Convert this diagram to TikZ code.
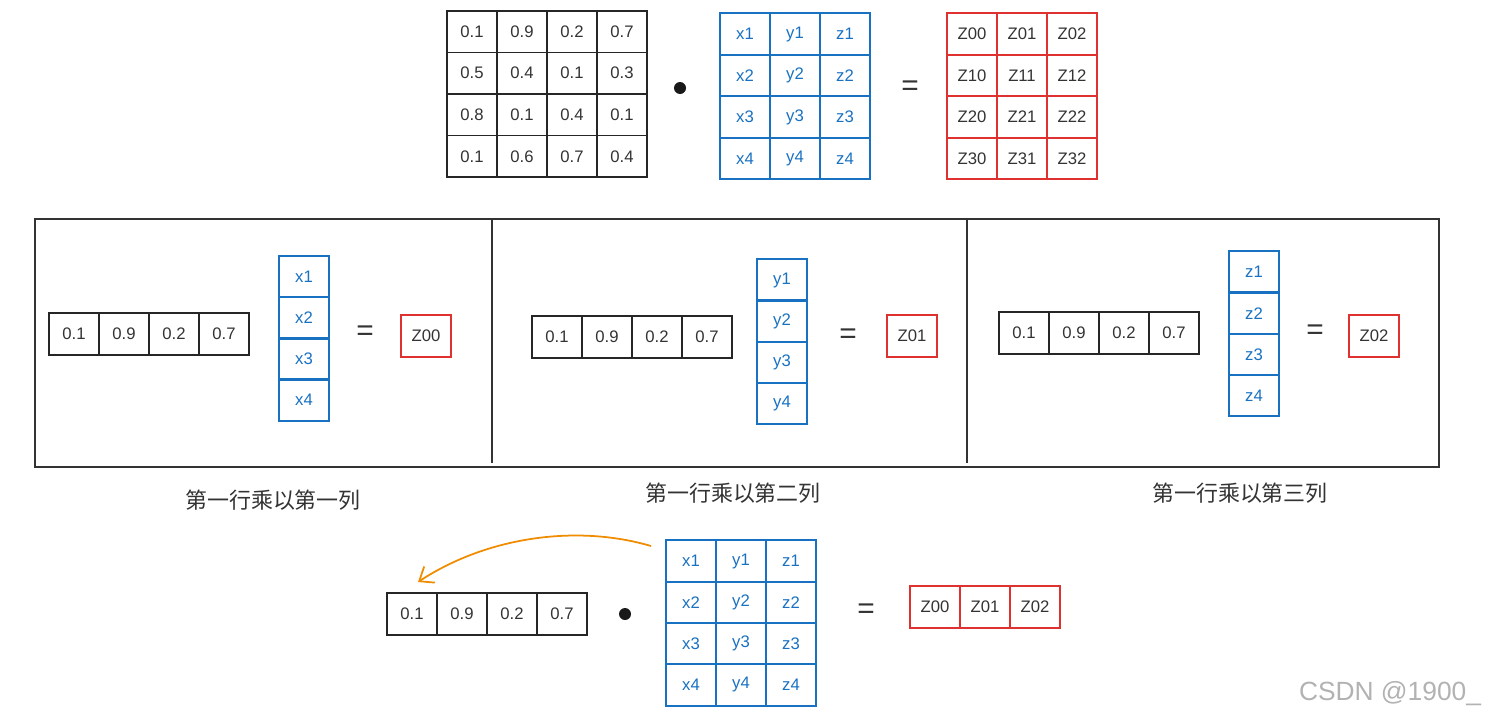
\documentclass[tikz,border=0pt]{standalone}
\usepackage{fontspec}
\setmainfont{Liberation Sans}
\newfontfamily\cjkfont{Noto Sans CJK SC}
\usepackage{xcolor}
\usepackage{tikz}
\usetikzlibrary{positioning,arrows.meta}
\definecolor{cellblue}{HTML}{1971C2}
\definecolor{cellred}{HTML}{E03131}
\definecolor{arrorange}{HTML}{F08C00}
\definecolor{txtgray}{HTML}{333333}

\tikzset{
  cell/.style={draw, line width=1.1pt, minimum width=1cm, minimum height=0.83cm,
    inner sep=0pt, font=\fontsize{9.5}{11}\selectfont, text=txtgray},
  acell/.style={cell, draw=black!85},
  bcell/.style={cell, draw=cellblue, text=cellblue},
  zcell/.style={cell, draw=cellred},
  opsign/.style={font=\fontsize{17}{19}\selectfont, text=txtgray},
  dotsign/.style={circle, fill=black!90, inner sep=0pt, minimum size=0.24cm},
  caption/.style={font=\cjkfont\fontsize{12.5}{15}\selectfont, text=txtgray},
}

\begin{document}
\begin{tikzpicture}[x=0.02cm, y=-0.02cm]
  \useasboundingbox (0,0) rectangle (1490,724);

  % top: A . B = Z
  \foreach \r/\vals in {1/{0.1,0.9,0.2,0.7}, 2/{0.5,0.4,0.1,0.3},
                        3/{0.8,0.1,0.4,0.1}, 4/{0.1,0.6,0.7,0.4}}
    \foreach \v [count=\c] in \vals
      \node[acell] (a-\r-\c) at ({472+50*(\c-1)},{31.75+41.5*(\r-1)}) {\v};
  \node[dotsign] (dot1) at (680,88) {};
  \foreach \r in {1,...,4}
    \foreach \l [count=\c] in {x,y,z}
      \node[bcell] (b-\r-\c) at ({745+50*(\c-1)},{34+41.5*(\r-1)}) {\l\r};
  \node[opsign] (eq1) at (910,88) {=};
  \foreach \r in {0,...,3}
    \foreach \c in {0,1,2}
      \node[zcell] (z-\r-\c) at ({972+50*\c},{34+41.5*\r}) {Z\r\c};

  % middle: the three panels
  \draw[line width=0.8pt, txtgray] (35,219) rectangle (1439,467);
  \draw[line width=0.8pt, txtgray] (492,219) -- (492,463);
  \draw[line width=0.8pt, txtgray] (967,219) -- (967,463);

  \foreach \p/\rx/\ry/\cx/\cy/\ex/\ey/\zx/\zy/\l/\k/\tx/\ty in
      {1/74/334/304/276.6/365/333/426/336/x/一/273/500,
       2/557/337/782/280/848/336/912/336/y/二/733/493,
       3/1024/333/1254/272/1315/332/1374/336/z/三/1240/493}
  {
    \pgfmathtruncatemacro\zi{\p-1}
    \foreach \v [count=\c] in {0.1,0.9,0.2,0.7}
      \node[acell] (p\p-a-\c) at ({\rx+50*(\c-1)},\ry) {\v};
    \foreach \r in {1,...,4}
      \node[bcell] (p\p-b-\r) at (\cx,{\cy+41.2*(\r-1)}) {\l\r};
    \node[opsign] (p\p-eq) at (\ex,\ey) {=};
    \node[zcell] (p\p-z) at (\zx,\zy) {Z0\zi};
    \node[caption] (p\p-cap) at (\tx,\ty) {第一行乘以第\k 列};
  }

  % bottom: row . B = row of Z
  \foreach \v [count=\c] in {0.1,0.9,0.2,0.7}
    \node[acell] (r-\c) at ({412+50*(\c-1)},614) {\v};
  \node[dotsign] (dot2) at (625,614) {};
  \foreach \r in {1,...,4}
    \foreach \l [count=\c] in {x,y,z}
      \node[bcell] (m-\r-\c) at ({691+50*(\c-1)},{561+41.3*(\r-1)}) {\l\r};
  \node[opsign] (eq2) at (866,611) {=};
  \foreach \c in {0,1,2}
    \node[zcell] (s-\c) at ({935+50*\c},607) {Z0\c};

  \coordinate (arrstart) at (651,546);
  \coordinate (arrend) at (418,582);
  \draw[arrorange, line width=1pt, -{Straight Barb[length=7pt,width=11pt]}]
    (arrstart) .. controls (580,525) and (490,535) .. (arrend);

  \node[text=black!30, font=\fontsize{15}{17}\selectfont] (mark) at (1390,694) {CSDN @1900\_};
\end{tikzpicture}
\end{document}
